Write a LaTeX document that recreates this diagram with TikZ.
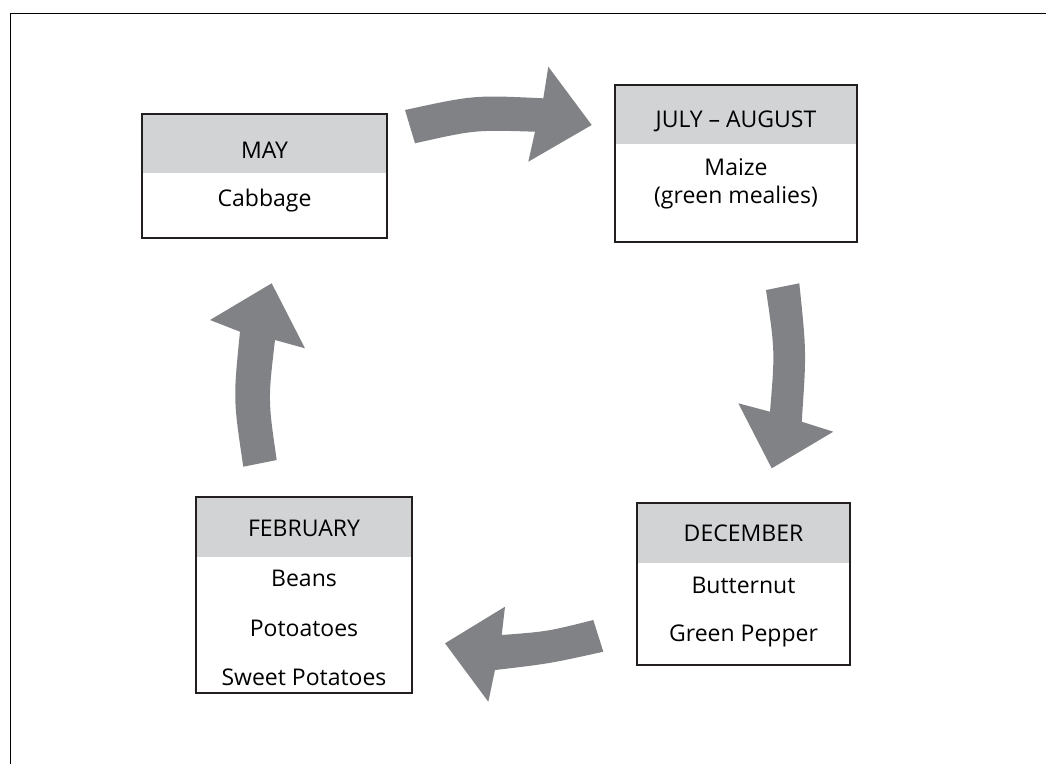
\documentclass[tikz,border=0pt]{standalone}
\usepackage{fontspec}
\setmainfont{Open Sans}
\definecolor{hdrgray}{HTML}{D1D3D4}
\definecolor{arrgray}{HTML}{808285}
\definecolor{linedark}{HTML}{231F20}
\begin{document}
\begin{tikzpicture}[x=1pt,y=-1pt,
  cardbox/.style={draw=linedark, line width=1.1pt, fill=white, inner sep=0pt},
  txt/.style={anchor=base, inner sep=0pt, font=\fontsize{23}{27}\selectfont, text=black},
  blockarrow/.style={fill=arrgray, draw=none}]
\useasboundingbox (0,0) rectangle (1046,764);
% frame
\draw[line width=1.4pt, black] (10.5,764) -- (10.5,13.5) -- (1046,13.5);
% boxes (header fill first, then frame)
\fill[hdrgray] (142,114) rectangle (387,173);
\node[cardbox, fill=none, minimum width=245pt, minimum height=124pt] (may) at (264.5,176) {};
\fill[hdrgray] (615,85) rectangle (857,144);
\node[cardbox, fill=none, minimum width=242pt, minimum height=157pt] (jul) at (736,163.5) {};
\fill[hdrgray] (196,497) rectangle (412,557);
\node[cardbox, fill=none, minimum width=216pt, minimum height=196pt] (feb) at (304,595) {};
\fill[hdrgray] (637,503) rectangle (850,563);
\node[cardbox, fill=none, minimum width=213pt, minimum height=162pt] (dec) at (743.5,584) {};
% texts
\node[txt] (mayh) at (264.5,158.3) {MAY};
\node[txt] (may1) at (264.5,206.7) {Cabbage};
\node[txt] (julh) at (736,127.3) {JULY – AUGUST};
\node[txt] (jul1) at (736,175) {Maize};
\node[txt] (jul2) at (736,203.3) {(green mealies)};
\node[txt] (febh) at (304,536.7) {FEBRUARY};
\node[txt] (feb1) at (304,586.7) {Beans};
\node[txt] (feb2) at (304,636.7) {Potoatoes};
\node[txt] (feb3) at (304,685) {Sweet Potatoes};
\node[txt] (dech) at (743.5,541.7) {DECEMBER};
\node[txt] (dec1) at (743.5,593.3) {Butternut};
\node[txt] (dec2) at (743.5,641.7) {Green Pepper};
% block arrows
\fill[blockarrow] (405,110) .. controls (474,95) .. (543.3,98.3) -- (548.3,66.7) -- (591.7,125) -- (528.3,161.7) -- (535,131.7) .. controls (475,129.8) .. (415,143.3) -- cycle;
\fill[blockarrow] (766,290) -- (799.3,283.3) .. controls (806.5,352.5) .. (801.7,421.7) -- (833.3,431.7) -- (771.7,468.3) -- (738.3,403.3) -- (770,411.7) .. controls (775,351) .. (766,290) -- cycle;
\fill[blockarrow] (593.3,620) -- (603.3,651.7) .. controls (549,663.7) .. (495,670) -- (488.3,701.7) -- (445,643.3) -- (505,606.7) -- (501.7,635) .. controls (547.5,631.5) .. (593.3,620) -- cycle;
\fill[blockarrow] (243.3,466.7) -- (276.7,460) .. controls (268,400) .. (275,340) -- (305,348.3) -- (271.7,283.3) -- (210,320) -- (240,331.7) .. controls (233.2,399.2) .. (243.3,466.7) -- cycle;
\end{tikzpicture}
\end{document}
